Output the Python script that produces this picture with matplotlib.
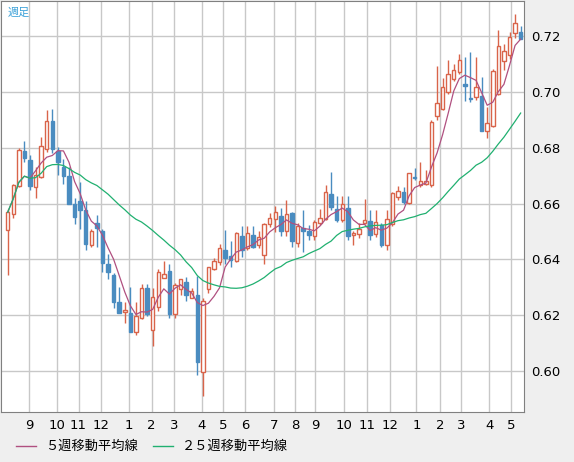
import matplotlib
matplotlib.use("Agg")
import matplotlib.pyplot as plt
from matplotlib.lines import Line2D
import numpy as np
import pandas as pd

plt.rcParams['font.family'] = ['Noto Sans CJK JP', 'DejaVu Sans']

opens  = [.6505,.6564,.6662,.6787,.6757,.6660,.6695,.6797,.6896,.6788,.6732,.6699,.6600,.6608,.6578,.6453,.6531,.6501,.6382,.6345,.6245,.6210,.6206,.6139,
          .6188,.6297,.6146,.6229,.6334,.6359,.6203,.6294,.6319,.6261,.6271,.5996,.6292,.6365,.6392,.6434,.6412,.6394,.6483,.6442,.6489,.6450,.6414,.6526,
          .6544,.6556,.6501,.6565,.6457,.6512,.6502,.6483,.6530,.6544,.6636,.6581,.6542,.6585,.6488,.6490,.6532,.6538,.6492,.6523,.6453,.6528,.6623,.6642,
          .6602,.6697,.6666,.6670,.6666,.6914,.6940,.7001,.7048,.7071,.7028,.6980,.6983,.6987,.6860,.6877,.6995,.7111,.7132,.7211,.7215]
closes = [.6569,.6666,.6794,.6764,.6662,.6703,.6805,.6898,.6795,.6748,.6699,.6600,.6553,.6578,.6454,.6500,.6514,.6385,.6353,.6248,.6209,.6218,.6139,.6196,
          .6297,.6203,.6266,.6355,.6349,.6203,.6307,.6329,.6271,.6286,.6032,.6252,.6371,.6394,.6440,.6404,.6397,.6495,.6432,.6495,.6445,.6480,.6526,.6547,
          .6569,.6501,.6564,.6465,.6520,.6502,.6489,.6535,.6550,.6642,.6587,.6542,.6599,.6483,.6495,.6508,.6541,.6489,.6535,.6450,.6544,.6638,.6645,.6605,
          .6709,.6691,.6682,.6680,.6892,.6961,.7020,.7066,.7081,.7115,.7022,.6976,.7017,.6861,.6888,.7077,.7166,.7148,.7199,.7248,.7190]
highs  = [.6580,.6670,.6800,.6824,.6776,.6730,.6838,.6937,.6940,.6804,.6760,.6732,.6620,.6679,.6608,.6508,.6559,.6510,.6420,.6350,.6300,.6245,.6300,.6245,
          .6313,.6310,.6297,.6366,.6395,.6384,.6315,.6329,.6337,.6297,.6340,.6260,.6373,.6405,.6455,.6506,.6467,.6498,.6518,.6521,.6521,.6500,.6531,.6565,
          .6593,.6585,.6612,.6570,.6530,.6578,.6524,.6541,.6580,.6667,.6715,.6626,.6626,.6626,.6503,.6530,.6618,.6578,.6578,.6530,.6578,.6640,.6663,.6660,
          .6710,.6728,.6750,.6722,.6900,.7093,.7049,.7115,.7100,.7135,.7125,.7145,.7126,.7055,.6945,.7082,.7223,.7172,.7215,.7279,.7236]
lows   = [.6345,.6550,.6660,.6748,.6648,.6620,.6690,.6785,.6780,.6702,.6672,.6598,.6528,.6508,.6435,.6444,.6445,.6356,.6330,.6225,.6209,.6172,.6139,.6128,
          .6185,.6195,.6088,.6215,.6333,.6188,.6190,.6271,.6252,.6260,.5986,.5910,.6280,.6361,.6380,.6383,.6374,.6389,.6408,.6435,.6440,.6440,.6383,.6516,
          .6498,.6485,.6482,.6445,.6444,.6425,.6470,.6470,.6522,.6540,.6578,.6533,.6533,.6470,.6451,.6475,.6525,.6470,.6480,.6445,.6435,.6520,.6612,.6600,
          .6598,.6685,.6660,.6666,.6660,.6900,.6935,.6995,.7040,.7065,.6967,.6965,.6970,.6861,.6835,.6875,.6990,.7080,.7120,.7195,.7190]

month_labels = ['9','10','11','12','1','2','3','4','5','6','7','8','9','10','11','12','1','2','3','4','5']
month_pos = [3.8,8.8,12.7,16.8,21.7,25.8,29.9,34.8,38.7,42.6,47.7,51.5,55.1,60.4,64.4,68.6,73.3,77.5,81.3,86.4,90.3]

UP = '#d9644a'; DOWN = '#4a8cc0'
MA5C = '#b05080'; MA25C = '#20b070'

fig = plt.figure(figsize=(5.74, 4.62), dpi=100, facecolor='#efefef')
ax = fig.add_axes([1/574, 50/462, 523/574, 411/462])
ax.set_facecolor('white')
n = len(closes)
x = np.arange(n)
s = pd.Series(closes)
ma5 = s.rolling(5, min_periods=1).mean()
ma25 = s.rolling(25, min_periods=1).mean()
w = 0.62
for i in x:
    o, c, h, l = opens[i], closes[i], highs[i], lows[i]
    if c >= o:
        ax.vlines(i, l, o, color=UP, lw=1, zorder=3)
        ax.vlines(i, c, h, color=UP, lw=1, zorder=3)
        ax.add_patch(plt.Rectangle((i - w/2, o), w, max(c - o, 0.0002), facecolor='white', edgecolor=UP, lw=1, zorder=3))
    else:
        ax.vlines(i, l, h, color=DOWN, lw=1, zorder=3)
        ax.add_patch(plt.Rectangle((i - w/2, c), w, max(o - c, 0.0002), facecolor=DOWN, edgecolor=DOWN, lw=1, zorder=3))
ax.plot(x, ma5, color=MA5C, lw=0.9, zorder=4)
ax.plot(x, ma25, color=MA25C, lw=0.9, zorder=4)

ax.set_xlim(-1.2, n - 0.4)
ax.set_ylim(0.5852, 0.7327)
ax.set_yticks([0.60, 0.62, 0.64, 0.66, 0.68, 0.70, 0.72])
ax.yaxis.tick_right()
ax.set_yticklabels([f'{v:.2f}' for v in ax.get_yticks()], family='DejaVu Sans', fontsize=9.5)
ax.set_xticks(month_pos)
ax.set_xticklabels(month_labels, family='DejaVu Sans', fontsize=9.5)
ax.tick_params(length=0, pad=5)
ax.grid(True, color='#c8c8c8', lw=1)
ax.set_axisbelow(True)
for sp in ax.spines.values():
    sp.set_color('#808080')
ax.text(0.012, 0.985, '週足', transform=ax.transAxes, color='#3aa0d8', fontsize=8, va='top', ha='left')

ly = 1 - 446/462
fig.add_artist(Line2D([16/574, 36/574], [ly, ly], color=MA5C, lw=1))
fig.text(45/574, ly, '５週移動平均線', fontsize=9.5, va='center')
fig.add_artist(Line2D([153/574, 173/574], [ly, ly], color=MA25C, lw=1))
fig.text(182/574, ly, '２５週移動平均線', fontsize=9.5, va='center')
fig.savefig('out.png', dpi=100, facecolor=fig.get_facecolor())
